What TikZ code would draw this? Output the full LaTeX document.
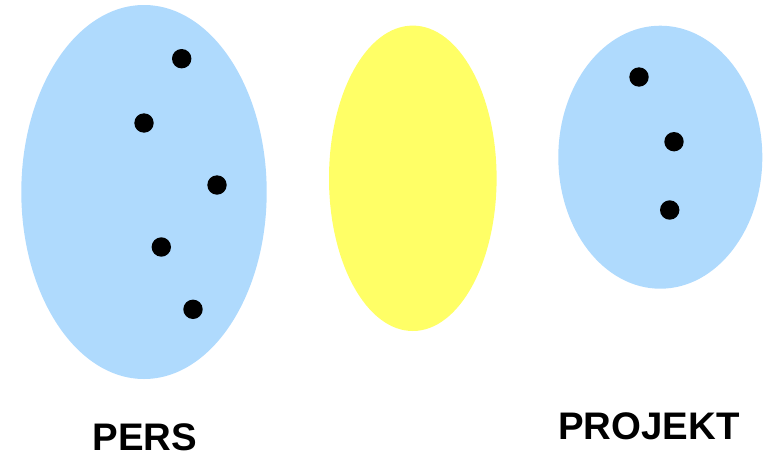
\documentclass[tikz,border=0pt]{standalone}
\usepackage{fontspec}
\setmainfont{Liberation Sans}
\usepackage{xcolor}
\usetikzlibrary{shapes.geometric}
\definecolor{setblue}{RGB}{175,218,253}
\definecolor{setyellow}{RGB}{255,255,102}

\begin{document}
\begin{tikzpicture}[x=1pt,y=-1pt,
  menge/.style={ellipse,inner sep=0pt},
  elem/.style={circle,fill=black,inner sep=0pt,minimum size=19.4pt},
  label/.style={font=\fontsize{38.4}{40}\selectfont\bfseries,anchor=base,inner sep=0pt}]
  \useasboundingbox (0,0) rectangle (773,455);
  \node[menge,fill=setblue,minimum width=245.4pt,minimum height=374pt] (pers) at (144,192) {};
  \node[menge,fill=setyellow,minimum width=167.6pt,minimum height=305.4pt] (mitte) at (412.8,178.3) {};
  \node[menge,fill=setblue,minimum width=204pt,minimum height=263pt] (projekt) at (660.3,157.2) {};
  \node[elem] (p1) at (181.7,58.7) {};
  \node[elem] (p2) at (144,123) {};
  \node[elem] (p3) at (217,185) {};
  \node[elem] (p4) at (161.3,247) {};
  \node[elem] (p5) at (193,309.3) {};
  \node[elem] (j1) at (639,77) {};
  \node[elem] (j2) at (674,141.7) {};
  \node[elem] (j3) at (669.7,210) {};
  \node[label] (perslabel) at (145,450) {PERS};
  \node[label] (projektlabel) at (649,439.3) {PROJEKT};
\end{tikzpicture}
\end{document}
